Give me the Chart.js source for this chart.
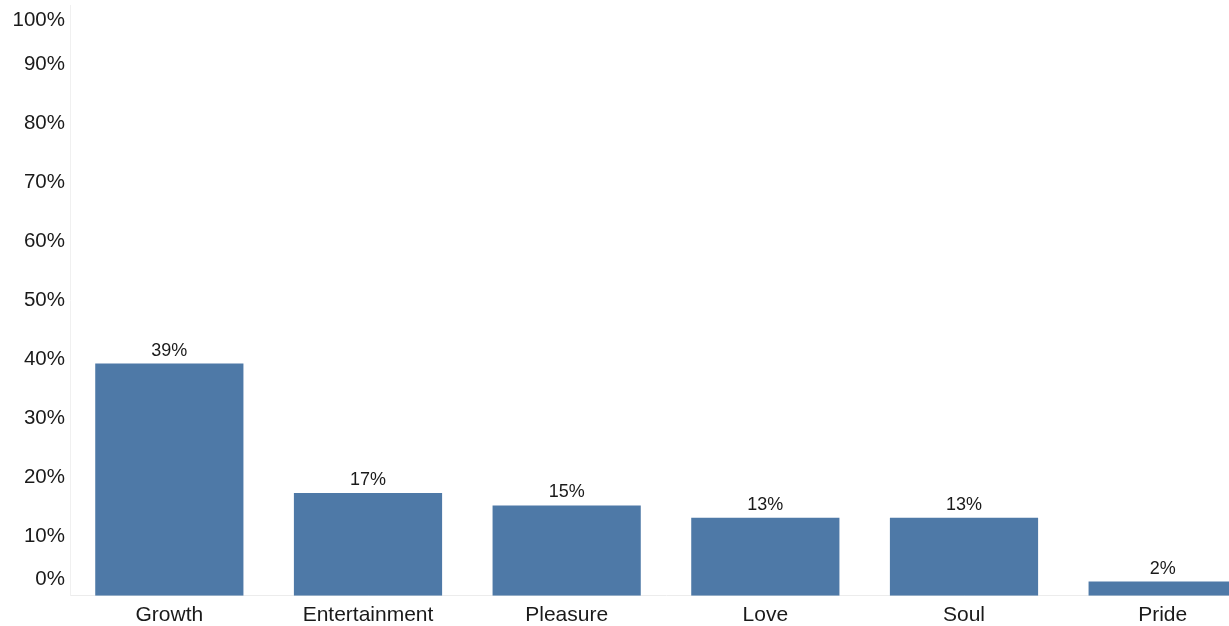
<!DOCTYPE html>
<html lang="en">
  <head>
    <meta charset="UTF-8" />
    <title>Motivation share</title>
    <script src="https://cdn.jsdelivr.net/npm/chart.js"></script>
    <style>
      html, body { margin: 0; padding: 0; background: #fff; overflow: hidden; }
      #wrap { position: relative; width: 1262px; height: 627px; }
    </style>
  </head>
  <body>
    <div id="wrap"><canvas id="barChart"></canvas></div>

    <script>
      // Chart data
      const categories = ['Growth', 'Entertainment', 'Pleasure', 'Love', 'Soul', 'Pride'];
      const shares = [39.3, 17.4, 15.3, 13.2, 13.2, 2.4];
      const yTicks = [0, 10, 20, 30, 40, 50, 60, 70, 80, 90, 100];

      const textColor = '#1a1a1a';
      const fontFamily = 'Arial, "Liberation Sans", sans-serif';

      // y tick labels, kept inside the plot height like the original
      const yLabels = {
        id: 'yLabels',
        afterDraw(chart) {
          const { ctx, chartArea, scales } = chart;
          ctx.save();
          ctx.font = `20.5px ${fontFamily}`;
          ctx.fillStyle = textColor;
          ctx.textAlign = 'right';
          ctx.textBaseline = 'middle';
          yTicks.forEach(v => {
            let y = scales.y.getPixelForValue(v);
            y = Math.min(Math.max(y, chartArea.top + 15), chartArea.bottom - 16);
            ctx.fillText(v + '%', chartArea.left - 5, y);
          });
          ctx.restore();
        }
      };

      // value labels over the bars
      const barLabels = {
        id: 'barLabels',
        afterDatasetsDraw(chart) {
          const { ctx } = chart;
          const meta = chart.getDatasetMeta(0);
          ctx.save();
          ctx.font = `18px ${fontFamily}`;
          ctx.fillStyle = textColor;
          ctx.textAlign = 'center';
          ctx.textBaseline = 'bottom';
          meta.data.forEach((bar, i) => {
            ctx.fillText(Math.round(shares[i]) + '%', bar.x, bar.y - 4);
          });
          ctx.restore();
        }
      };

      const chart = new Chart(document.getElementById('barChart'), {
        type: 'bar',
        data: {
          labels: categories,
          datasets: [{
            data: shares,
            backgroundColor: '#4e79a7',
            barPercentage: 0.746,
            categoryPercentage: 1.0
          }]
        },
        options: {
          responsive: true,
          maintainAspectRatio: false,
          animation: false,
          layout: { padding: { left: 62, top: 5, right: 0, bottom: 0 } },
          plugins: {
            legend: { display: false },
            tooltip: { enabled: false }
          },
          scales: {
            x: {
              grid: { display: false },
              border: { display: true, color: '#ececec' },
              ticks: {
                color: textColor,
                padding: -1,
                font: { family: fontFamily, size: 21 }
              }
            },
            y: {
              min: 0,
              max: 100,
              grid: { display: false },
              border: { display: true, color: '#f0f0f0' },
              ticks: { display: false }
            }
          }
        },
        plugins: [yLabels, barLabels]
      });
    </script>
  </body>
</html>
